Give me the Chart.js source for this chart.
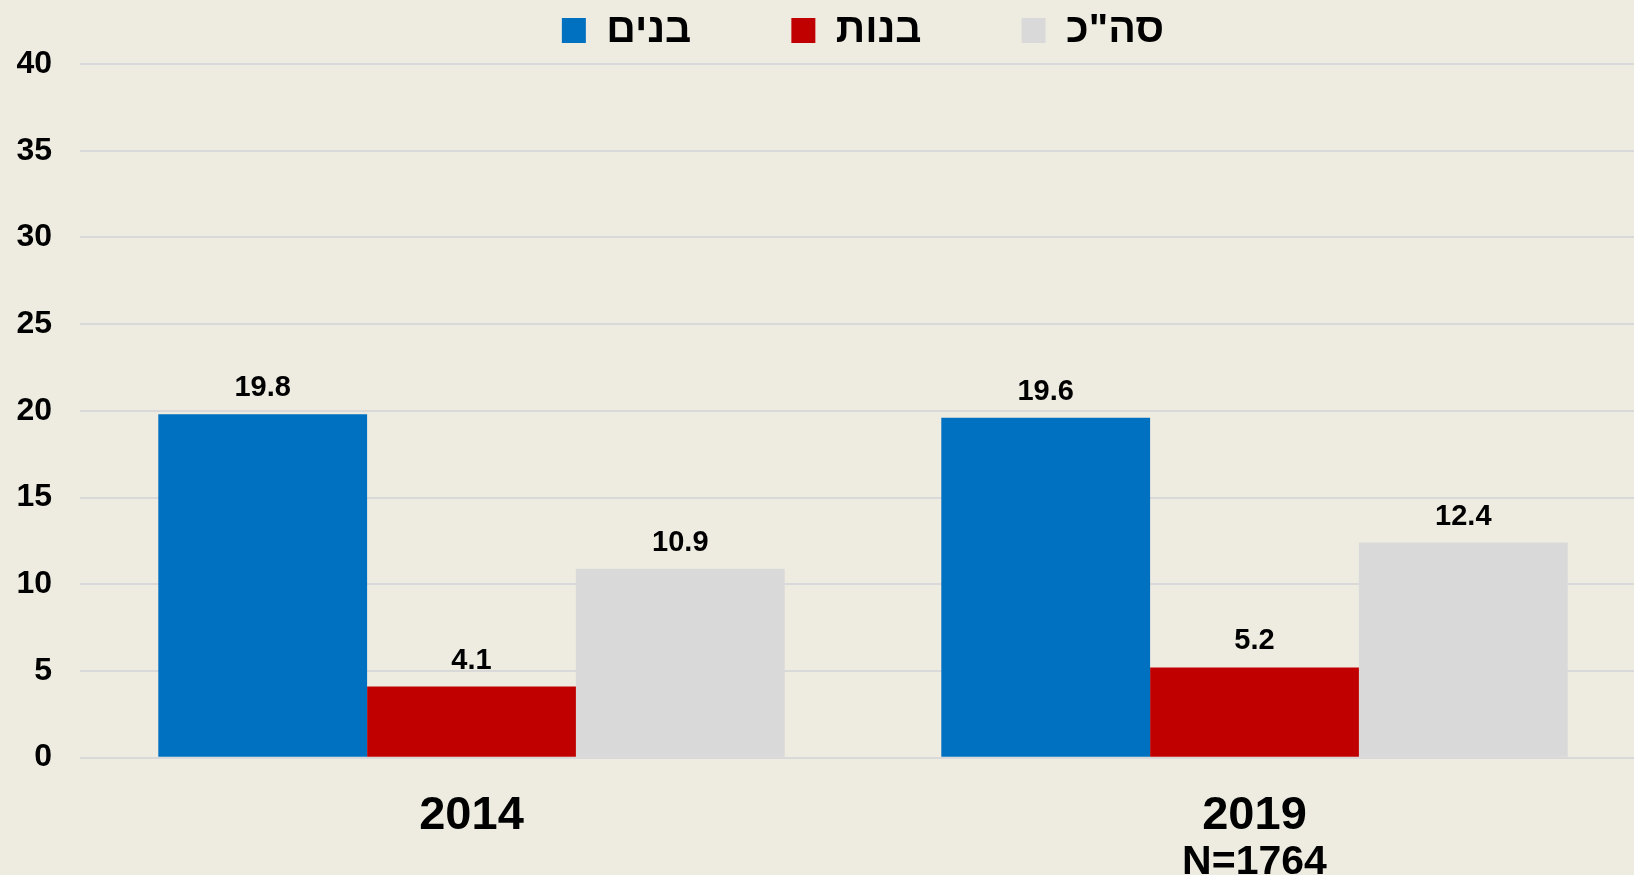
<!DOCTYPE html>
<html>
<head>
<meta charset="utf-8">
<script src="https://cdn.jsdelivr.net/npm/chart.js@4/dist/chart.umd.min.js"></script>
<style>
  html, body { margin: 0; padding: 0; background: #EEECE1; overflow: hidden; }
  #wrap { width: 1634px; height: 875px; position: relative; overflow: hidden; }
  canvas { display: block; }
</style>
</head>
<body>
<div id="wrap"><canvas id="c" width="1646" height="875"></canvas></div>
<script>
const categories = ['2014', '2019'];
const subLabels = ['', 'N=1764'];
const seriesNames = ['בנים', 'בנות', 'סה"כ'];
const boys = [19.8, 19.6];
const girls = [4.1, 5.2];
const total = [10.9, 12.4];
const seriesColors = ['#0070C0', '#C00000', '#D9D9D9'];
const yTicks = [0, 5, 10, 15, 20, 25, 30, 35, 40];

const FONT = "'Liberation Sans', Arial, 'DejaVu Sans', sans-serif";

const valueLabels = {
  id: 'valueLabels',
  afterDatasetsDraw(chart) {
    const ctx = chart.ctx;
    ctx.save();
    ctx.font = 'bold 29px ' + FONT;
    ctx.fillStyle = '#000';
    ctx.textAlign = 'center';
    ctx.textBaseline = 'alphabetic';
    chart.data.datasets.forEach((ds, di) => {
      const meta = chart.getDatasetMeta(di);
      meta.data.forEach((bar, i) => {
        ctx.fillText(ds.data[i].toFixed(1), bar.x, bar.y - 18);
      });
    });
    ctx.restore();
  }
};

const subLabelPlugin = {
  id: 'subLabelPlugin',
  afterDraw(chart) {
    const ctx = chart.ctx;
    const xs = chart.scales.x;
    ctx.save();
    ctx.font = 'bold 41px ' + FONT;
    ctx.fillStyle = '#000';
    ctx.textAlign = 'center';
    ctx.textBaseline = 'alphabetic';
    subLabels.forEach((t, i) => {
      if (t) ctx.fillText(t, xs.getPixelForValue(i), chart.chartArea.bottom + 116);
    });
    ctx.restore();
  }
};

const legendPlace = {
  id: 'legendPlace',
  afterLayout(chart) {
    const lg = chart.legend;
    if (lg) {
      lg.left = chart.chartArea.left;
      lg.right = chart.chartArea.right;
      lg.top = lg.top - 90;
    }
  }
};

new Chart(document.getElementById('c'), {
  type: 'bar',
  data: {
    labels: categories,
    datasets: [
      { label: seriesNames[0], data: boys, backgroundColor: seriesColors[0] },
      { label: seriesNames[1], data: girls, backgroundColor: seriesColors[1] },
      { label: seriesNames[2], data: total, backgroundColor: seriesColors[2] }
    ]
  },
  options: {
    responsive: false,
    animation: false,
    devicePixelRatio: 1,
    layout: { padding: 0 },
    datasets: { bar: { barPercentage: 1, categoryPercentage: 0.8, borderWidth: 0 } },
    plugins: {
      tooltip: { enabled: false },
      legend: {
        position: 'top',
        maxHeight: 64,
        labels: {
          font: { family: FONT, size: 41, weight: 'bold' },
          color: '#000',
          boxWidth: 24,
          boxHeight: 25,
          padding: 100
        }
      }
    },
    scales: {
      x: {
        grid: { display: false, drawTicks: false },
        border: { display: false },
        ticks: {
          font: { family: FONT, size: 47, weight: 'bold', lineHeight: 1.05 },
          color: '#000',
          padding: 34
        }
      },
      y: {
        min: 0,
        max: 40,
        afterFit(scale) { scale.width = 80; },
        afterBuildTicks(scale) { scale.ticks = yTicks.map(v => ({ value: v })); },
        grid: { color: '#D9D9D9', lineWidth: 2, drawTicks: false },
        border: { display: false },
        ticks: {
          font: { family: FONT, size: 32, weight: 'bold' },
          color: '#000',
          padding: 28
        }
      }
    }
  },
  plugins: [valueLabels, subLabelPlugin, legendPlace]
});
</script>
</body>
</html>
